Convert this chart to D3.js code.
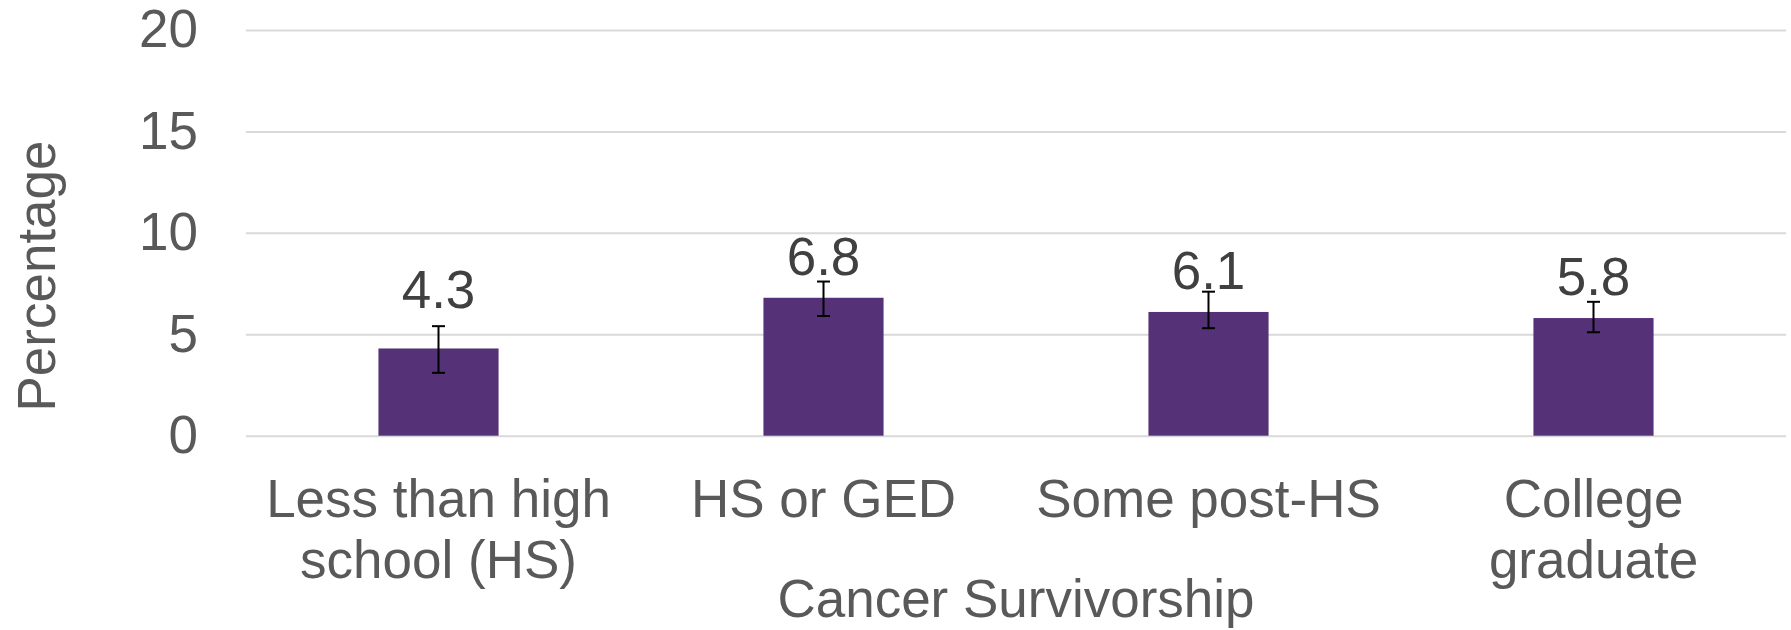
<!DOCTYPE html>
<html>
<head>
<meta charset="utf-8">
<script src="https://cdn.jsdelivr.net/npm/d3@7"></script>
<style>
  html, body { margin: 0; padding: 0; background: #fff; }
  svg { display: block; font-family: "Liberation Sans", Arial, sans-serif; }
</style>
</head>
<body>
<svg id="chart" width="1791" height="630"></svg>
<script>
// ---- Data ----
const categories = ["Less than high\nschool (HS)", "HS or GED", "Some post-HS", "College\ngraduate"];
const values = [4.3, 6.8, 6.1, 5.8];
const ciLow = [3.1, 5.9, 5.3, 5.1];
const ciHigh = [5.4, 7.6, 7.1, 6.6];
const yTicks = [0, 5, 10, 15, 20];
const yTitle = "Percentage";
const xTitle = "Cancer Survivorship";

// ---- Layout ----
const W = 1791, H = 630;
const margin = { top: 30, right: 5, bottom: 194.3, left: 246 };
const iw = W - margin.left - margin.right;
const ih = H - margin.top - margin.bottom;
const fontSize = 53;
const barColor = "#553177";
const tickColor = "#595959";
const labelColor = "#404040";

const svg = d3.select("#chart");
const g = svg.append("g").attr("transform", `translate(${margin.left},${margin.top})`);

const x = d3.scaleBand().domain(categories).range([0, iw]).paddingInner(0.688).paddingOuter(0.344);
const y = d3.scaleLinear().domain([0, 20]).range([ih, 0]);

// gridlines + y tick labels
const yAxis = d3.axisLeft(y).tickValues(yTicks).tickSize(-iw).tickPadding(48).tickFormat(d3.format("d"));
const ya = g.append("g").call(yAxis);
ya.select(".domain").remove();
ya.selectAll(".tick line").attr("stroke", "#d9d9d9").attr("stroke-width", 2);
ya.selectAll(".tick text")
  .attr("fill", tickColor)
  .style("font-size", fontSize + "px")
  .attr("dy", "0.32em");

// bars
g.selectAll("rect.bar").data(values).enter().append("rect")
  .attr("class", "bar")
  .attr("x", (d, i) => x(categories[i]))
  .attr("width", x.bandwidth())
  .attr("y", d => y(d))
  .attr("height", d => ih - y(d))
  .attr("fill", barColor);

// error bars
const capHalf = 6.5;
const eb = g.selectAll("g.err").data(values).enter().append("g").attr("class", "err")
  .attr("transform", (d, i) => `translate(${x(categories[i]) + x.bandwidth() / 2},0)`);
eb.append("line").attr("x1", 0).attr("x2", 0)
  .attr("y1", (d, i) => y(ciLow[i])).attr("y2", (d, i) => y(ciHigh[i]))
  .attr("stroke", "#000").attr("stroke-width", 2);
eb.append("line").attr("x1", -capHalf).attr("x2", capHalf)
  .attr("y1", (d, i) => y(ciLow[i])).attr("y2", (d, i) => y(ciLow[i]))
  .attr("stroke", "#000").attr("stroke-width", 2);
eb.append("line").attr("x1", -capHalf).attr("x2", capHalf)
  .attr("y1", (d, i) => y(ciHigh[i])).attr("y2", (d, i) => y(ciHigh[i]))
  .attr("stroke", "#000").attr("stroke-width", 2);

// data labels (gap above bar top, in px)
const labelGap = [40, 23, 23, 23];
g.selectAll("text.val").data(values).enter().append("text")
  .attr("class", "val")
  .attr("x", (d, i) => x(categories[i]) + x.bandwidth() / 2)
  .attr("y", (d, i) => y(d) - labelGap[i])
  .attr("text-anchor", "middle")
  .attr("fill", labelColor)
  .style("font-size", fontSize + "px")
  .text(d => d3.format(".1f")(d));

// x axis labels
const xAxis = d3.axisBottom(x).tickSize(0);
const xa = g.append("g").attr("transform", `translate(0,${ih})`).call(xAxis);
xa.select(".domain").remove();
xa.selectAll(".tick text").each(function(d) {
  const t = d3.select(this);
  t.text(null).attr("dy", null).attr("y", 81)
    .attr("fill", tickColor).style("font-size", fontSize + "px");
  d.split("\n").forEach((line, k) => {
    t.append("tspan").attr("x", 0).attr("dy", k === 0 ? 0 : 61).text(line);
  });
});

// axis titles
svg.append("text")
  .attr("transform", `translate(55,276) rotate(-90)`)
  .attr("text-anchor", "middle")
  .attr("fill", tickColor)
  .style("font-size", fontSize + "px")
  .text(yTitle);

svg.append("text")
  .attr("x", margin.left + iw / 2)
  .attr("y", 616.7)
  .attr("text-anchor", "middle")
  .attr("fill", tickColor)
  .style("font-size", fontSize + "px")
  .text(xTitle);
</script>
</body>
</html>
